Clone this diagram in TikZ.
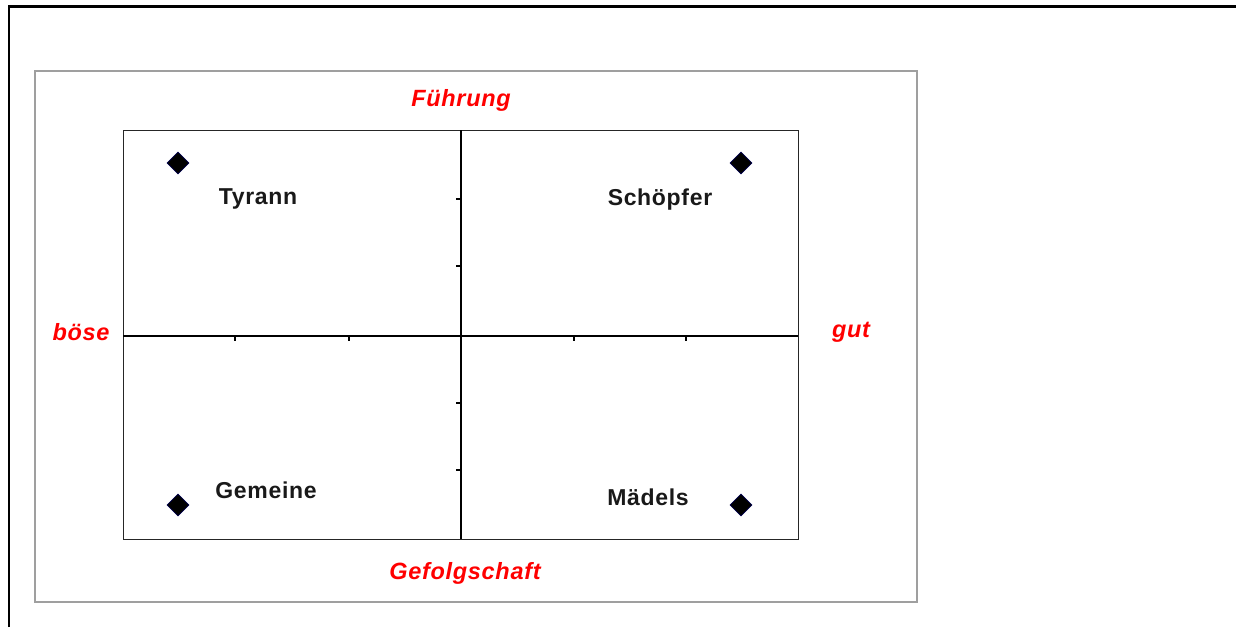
\documentclass[tikz,border=0pt]{standalone}
\usepackage{fontspec}
\setmainfont{Liberation Sans}
\usetikzlibrary{shapes.geometric}
\begin{document}
\begin{tikzpicture}[x=1pt,y=-1pt,
  pt/.style={diamond,fill=black,draw=black!70!blue,line width=0.6pt,inner sep=0pt,minimum width=22pt,minimum height=22pt},
  lbl/.style={font=\fontsize{23}{26}\selectfont\bfseries,text=black!90,inner sep=0pt},
  axlbl/.style={font=\fontsize{23.5}{26}\selectfont\bfseries\itshape,text=red,inner sep=0pt},
  tick/.style={line width=1.2pt,black}]
\useasboundingbox (0,0) rectangle (1236,627);
% outer frame lines
\draw[line width=2.2pt] (9,627) -- (9,6.5) -- (1236,6.5);
% gray chart frame
\draw[line width=1.3pt,gray!75] (35,71) rectangle (917,602);
% plot area
\draw[line width=1pt,black!85] (123,130) rectangle (798,539);
\coordinate (vt) at (461,130); \coordinate (vb) at (461,539);
\coordinate (hl) at (123,336); \coordinate (hr) at (798,336);
\draw[line width=1.2pt] (vt) -- (vb);
\draw[line width=1.2pt] (hl) -- (hr);
\foreach \y in {199,266,403,470} \draw[tick] (456,\y) -- (461,\y);
\foreach \x in {235,349,574,686} \draw[tick] (\x,336) -- (\x,341);
% points
\node[pt] (p1) at (178,163) {};
\node[pt] (p2) at (741,163) {};
\node[pt] (p3) at (178,505) {};
\node[pt] (p4) at (741,505) {};
% point labels
\node[lbl] (l1) at (258,199) {\addfontfeature{LetterSpace=3}Tyrann};
\node[lbl] (l2) at (660,200) {\addfontfeature{LetterSpace=3}Schöpfer};
\node[lbl] (l3) at (266,490) {\addfontfeature{LetterSpace=3}Gemeine};
\node[lbl] (l4) at (648,497) {\addfontfeature{LetterSpace=3}Mädels};
% axis labels
\node[axlbl] (top) at (461,100) {\addfontfeature{LetterSpace=3}Führung};
\node[axlbl] (bot) at (465,573) {\addfontfeature{LetterSpace=3}Gefolgschaft};
\node[axlbl] (left) at (81,332) {\addfontfeature{LetterSpace=3}böse};
\node[axlbl] (right) at (851,332) {\addfontfeature{LetterSpace=3}gut};
\end{tikzpicture}
\end{document}
